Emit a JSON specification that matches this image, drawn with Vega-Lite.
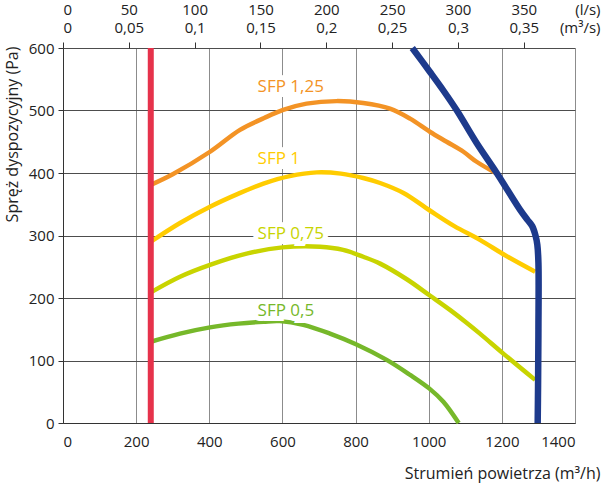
{
  "$schema": "https://vega.github.io/schema/vega-lite/v6.json",
  "width": 512,
  "height": 375,
  "autosize": {"type": "none"},
  "padding": {"left": 63, "top": 48, "right": 26, "bottom": 61},
  "background": "white",
  "config": {
    "font": "Open Sans",
    "view": {"stroke": null},
    "axis": {"labelColor": "#222", "titleColor": "#222", "labelFontSize": 15, "titleFontSize": 16, "titleFontWeight": "normal", "labelFont": "Open Sans", "titleFont": "Open Sans"}
  },
  "datasets": {
    "curves": [
      {"s": "SFP 1,25", "i": 1, "q": 240, "p": 381},
      {"s": "SFP 1,25", "i": 2, "q": 300, "p": 398},
      {"s": "SFP 1,25", "i": 3, "q": 402, "p": 434},
      {"s": "SFP 1,25", "i": 4, "q": 484, "p": 469},
      {"s": "SFP 1,25", "i": 5, "q": 550, "p": 488},
      {"s": "SFP 1,25", "i": 6, "q": 602, "p": 501},
      {"s": "SFP 1,25", "i": 7, "q": 666, "p": 511},
      {"s": "SFP 1,25", "i": 8, "q": 748, "p": 515},
      {"s": "SFP 1,25", "i": 9, "q": 821, "p": 512},
      {"s": "SFP 1,25", "i": 10, "q": 894, "p": 503},
      {"s": "SFP 1,25", "i": 11, "q": 949, "p": 487},
      {"s": "SFP 1,25", "i": 12, "q": 1003, "p": 466},
      {"s": "SFP 1,25", "i": 13, "q": 1049, "p": 450},
      {"s": "SFP 1,25", "i": 14, "q": 1095, "p": 434},
      {"s": "SFP 1,25", "i": 15, "q": 1131, "p": 418},
      {"s": "SFP 1,25", "i": 16, "q": 1186, "p": 399},
      {"s": "SFP 1", "i": 1, "q": 240, "p": 290},
      {"s": "SFP 1", "i": 2, "q": 320, "p": 320},
      {"s": "SFP 1", "i": 3, "q": 402, "p": 346},
      {"s": "SFP 1", "i": 4, "q": 480, "p": 367},
      {"s": "SFP 1", "i": 5, "q": 548, "p": 383},
      {"s": "SFP 1", "i": 6, "q": 620, "p": 395},
      {"s": "SFP 1", "i": 7, "q": 694, "p": 401},
      {"s": "SFP 1", "i": 8, "q": 760, "p": 399},
      {"s": "SFP 1", "i": 9, "q": 821, "p": 392},
      {"s": "SFP 1", "i": 10, "q": 867, "p": 384},
      {"s": "SFP 1", "i": 11, "q": 931, "p": 368},
      {"s": "SFP 1", "i": 12, "q": 1003, "p": 340},
      {"s": "SFP 1", "i": 13, "q": 1070, "p": 315},
      {"s": "SFP 1", "i": 14, "q": 1140, "p": 293},
      {"s": "SFP 1", "i": 15, "q": 1210, "p": 268},
      {"s": "SFP 1", "i": 16, "q": 1291, "p": 242},
      {"s": "SFP 0,75", "i": 1, "q": 240, "p": 209},
      {"s": "SFP 0,75", "i": 2, "q": 320, "p": 234},
      {"s": "SFP 0,75", "i": 3, "q": 402, "p": 253},
      {"s": "SFP 0,75", "i": 4, "q": 502, "p": 271},
      {"s": "SFP 0,75", "i": 5, "q": 600, "p": 281},
      {"s": "SFP 0,75", "i": 6, "q": 703, "p": 282},
      {"s": "SFP 0,75", "i": 7, "q": 766, "p": 277},
      {"s": "SFP 0,75", "i": 8, "q": 821, "p": 266},
      {"s": "SFP 0,75", "i": 9, "q": 867, "p": 255},
      {"s": "SFP 0,75", "i": 10, "q": 940, "p": 230},
      {"s": "SFP 0,75", "i": 11, "q": 1003, "p": 204},
      {"s": "SFP 0,75", "i": 12, "q": 1058, "p": 181},
      {"s": "SFP 0,75", "i": 13, "q": 1100, "p": 162},
      {"s": "SFP 0,75", "i": 14, "q": 1140, "p": 143},
      {"s": "SFP 0,75", "i": 15, "q": 1204, "p": 111},
      {"s": "SFP 0,75", "i": 16, "q": 1291, "p": 69},
      {"s": "SFP 0,5", "i": 1, "q": 240, "p": 130},
      {"s": "SFP 0,5", "i": 2, "q": 320, "p": 143},
      {"s": "SFP 0,5", "i": 3, "q": 402, "p": 153},
      {"s": "SFP 0,5", "i": 4, "q": 480, "p": 159},
      {"s": "SFP 0,5", "i": 5, "q": 548, "p": 162},
      {"s": "SFP 0,5", "i": 6, "q": 593, "p": 163},
      {"s": "SFP 0,5", "i": 7, "q": 657, "p": 157},
      {"s": "SFP 0,5", "i": 8, "q": 730, "p": 143},
      {"s": "SFP 0,5", "i": 9, "q": 801, "p": 126},
      {"s": "SFP 0,5", "i": 10, "q": 885, "p": 101},
      {"s": "SFP 0,5", "i": 11, "q": 949, "p": 77},
      {"s": "SFP 0,5", "i": 12, "q": 1002, "p": 55},
      {"s": "SFP 0,5", "i": 13, "q": 1040, "p": 34},
      {"s": "SFP 0,5", "i": 14, "q": 1082, "p": 0}
    ],
    "blue": [
      {"i": 1, "q": 955, "p": 600},
      {"i": 2, "q": 1003, "p": 562},
      {"i": 3, "q": 1040, "p": 532},
      {"i": 4, "q": 1077, "p": 500},
      {"i": 5, "q": 1131, "p": 448},
      {"i": 6, "q": 1186, "p": 400},
      {"i": 7, "q": 1250, "p": 341},
      {"i": 8, "q": 1270, "p": 325},
      {"i": 9, "q": 1283, "p": 315},
      {"i": 10, "q": 1292, "p": 300},
      {"i": 11, "q": 1297, "p": 285},
      {"i": 12, "q": 1300, "p": 256},
      {"i": 13, "q": 1300, "p": 150},
      {"i": 14, "q": 1299, "p": 60},
      {"i": 15, "q": 1298, "p": 0}
    ],
    "labels": [
      {"s": "SFP 1,25", "q": 532, "p": 537},
      {"s": "SFP 1", "q": 532, "p": 422},
      {"s": "SFP 0,75", "q": 532, "p": 302},
      {"s": "SFP 0,5", "q": 532, "p": 180}
    ],
    "rule": [{"q": 240}]
  },
  "layer": [
    {
      "data": {"name": "curves"},
      "mark": {"type": "line", "strokeWidth": 4.5, "strokeCap": "butt", "interpolate": "catmull-rom"},
      "encoding": {
        "x": {
          "field": "q", "type": "quantitative",
          "scale": {"domain": [0, 1400], "nice": false, "zero": false},
          "axis": {
            "orient": "bottom",
            "values": [0, 200, 400, 600, 800, 1000, 1200, 1400],
            "format": "d",
            "grid": true, "gridColor": "#8c8c8c", "gridWidth": 1,
            "ticks": false, "labelPadding": 11,
            "domainColor": "#333", "domainWidth": 1,
            "title": "Strumień powietrza (m³/h)",
            "titleX": 537, "titleY": 55, "titleAlign": "right", "titleBaseline": "alphabetic", "titleAnchor": null
          }
        },
        "y": {
          "field": "p", "type": "quantitative",
          "scale": {"domain": [0, 600], "nice": false, "zero": false},
          "axis": {
            "values": [0, 100, 200, 300, 400, 500, 600],
            "grid": true, "gridColor": "#4d4d4d", "gridWidth": 1,
            "tickSize": 5, "tickColor": "#333", "labelPadding": 4,
            "domainColor": "#333", "domainWidth": 1,
            "title": "Spręż dyspozycyjny (Pa)",
            "titleX": -46, "titleY": 86, "titleAlign": "center", "titleBaseline": "alphabetic", "titleAngle": -90
          }
        },
        "color": {
          "field": "s", "type": "nominal",
          "scale": {"domain": ["SFP 1,25", "SFP 1", "SFP 0,75", "SFP 0,5"], "range": ["#F39325", "#FFCC00", "#C8D400", "#76B82A"]},
          "legend": null
        },
        "order": {"field": "i", "type": "quantitative"}
      }
    },
    {
      "data": {"name": "blue"},
      "mark": {"type": "line", "strokeWidth": 6.5, "color": "#1D3A8C", "strokeCap": "butt", "interpolate": "catmull-rom"},
      "encoding": {
        "x": {"field": "q", "type": "quantitative", "axis": null},
        "y": {"field": "p", "type": "quantitative"},
        "order": {"field": "i", "type": "quantitative"}
      }
    },
    {
      "data": {"name": "rule"},
      "mark": {"type": "rule", "strokeWidth": 6, "color": "#E6324B"},
      "encoding": {
        "x": {
          "field": "q", "type": "quantitative",
          "axis": {
            "orient": "top",
            "values": [0, 180, 360, 540, 720, 900, 1080, 1260],
            "grid": false, "domain": false,
            "tickSize": 6, "tickColor": "#333",
            "labelPadding": 25, "labelLineHeight": 18,
            "labelExpr": "[format(datum.value / 3.6, '.0f'), replace(format(datum.value / 3600, '.2~f'), '.', ',')]",
            "title": ["(l/s)", "(m³/s)"],
            "titleFontSize": 15,
            "titleX": 537, "titleY": -31, "titleAlign": "right", "titleBaseline": "bottom", "titleLineHeight": 18, "titleAnchor": null
          }
        }
      }
    },
    {
      "data": {"name": "labels"},
      "mark": {"type": "text", "align": "left", "baseline": "middle", "fontSize": 17, "font": "Open Sans", "stroke": "white", "strokeWidth": 10, "color": "white"},
      "encoding": {
        "x": {"field": "q", "type": "quantitative", "axis": null},
        "y": {"field": "p", "type": "quantitative"},
        "text": {"field": "s"}
      }
    },
    {
      "data": {"name": "labels"},
      "mark": {"type": "text", "align": "left", "baseline": "middle", "fontSize": 17, "font": "Open Sans"},
      "encoding": {
        "x": {"field": "q", "type": "quantitative", "axis": null},
        "y": {"field": "p", "type": "quantitative"},
        "text": {"field": "s"},
        "color": {"field": "s", "type": "nominal", "legend": null}
      }
    }
  ],
  "resolve": {"axis": {"x": "independent"}}
}
